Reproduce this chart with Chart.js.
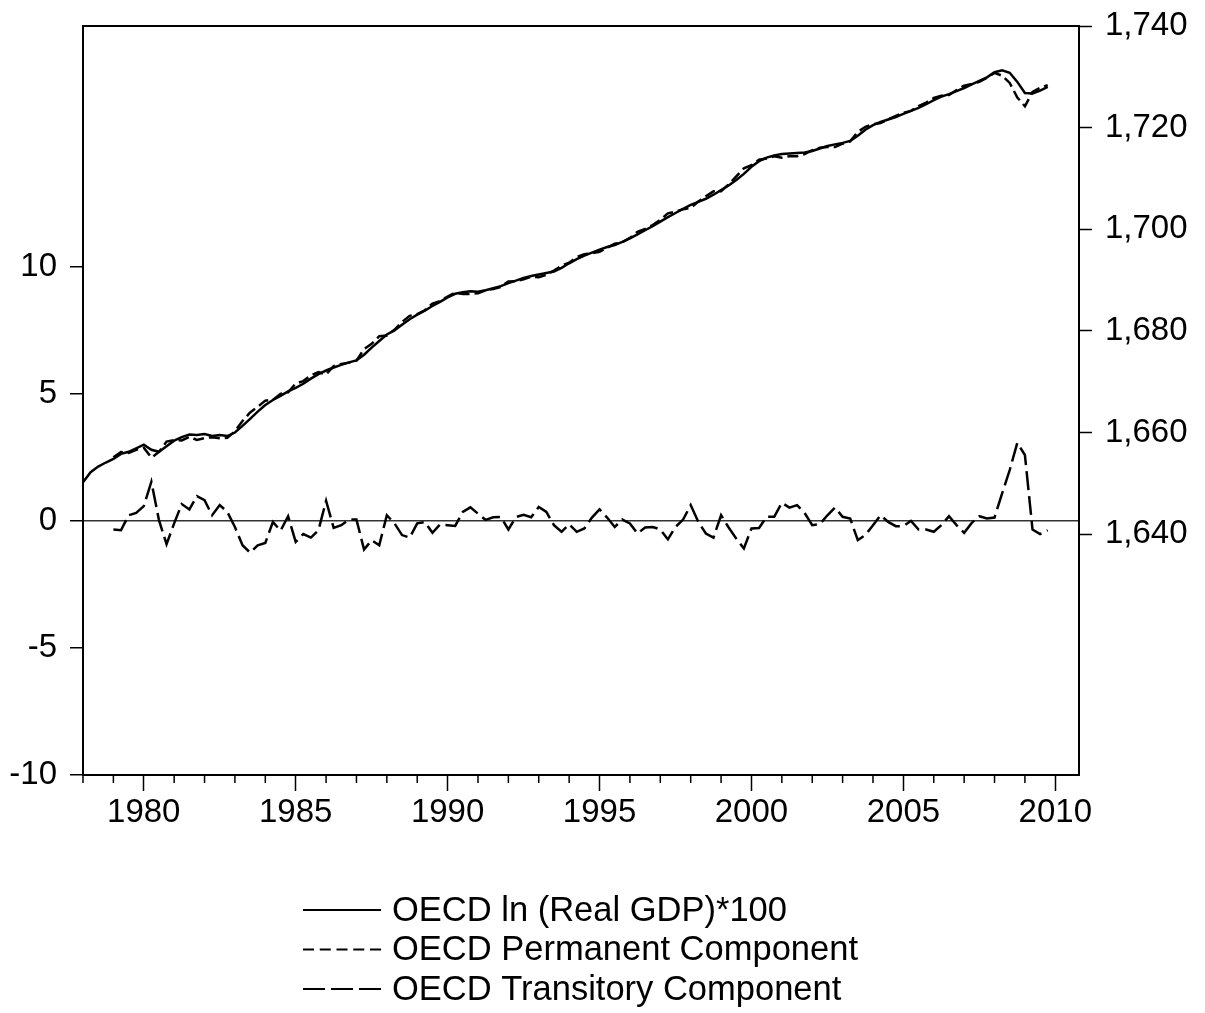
<!DOCTYPE html>
<html>
<head>
<meta charset="utf-8">
<title>OECD real GDP decomposition</title>
<script src="https://cdn.jsdelivr.net/npm/chart.js@4.4.1/dist/chart.umd.min.js"></script>
<style>
  html, body { margin: 0; padding: 0; background: #ffffff; }
  #wrap { width: 1205px; height: 1013px; position: relative; }
  canvas { display: block; }
</style>
</head>
<body>
<div id="wrap"><canvas id="chart" width="1205" height="1013"></canvas></div>
<script>
// Quarterly observations, 1978Q1 onward (GDP) and 1979Q1 onward (components)
const gdpStart = 1978;
const componentStart = 1979;

// OECD ln(real GDP)*100, right axis
const gdp = [
  1650.2, 1652.2, 1653.3, 1654.1,
  1654.8, 1655.8, 1656.2, 1656.9,
  1657.6, 1656.6, 1656.2, 1657.3,
  1658.4, 1659.1, 1659.6, 1659.5,
  1659.7, 1659.3, 1659.5, 1659.3,
  1660.0, 1661.3, 1662.7, 1664.1,
  1665.4, 1666.4, 1667.2, 1668.1,
  1668.8, 1669.6, 1670.6, 1671.5,
  1672.2, 1672.8, 1673.3, 1673.8,
  1674.2, 1675.3, 1676.7, 1678.0,
  1679.3, 1680.1, 1681.2, 1682.3,
  1683.2, 1684.0, 1684.9, 1685.7,
  1686.6, 1687.3, 1687.6, 1687.8,
  1687.7, 1688.0, 1688.4, 1688.8,
  1689.4, 1689.9, 1690.4, 1690.8,
  1691.1, 1691.4, 1691.7, 1692.4,
  1693.3, 1694.1, 1694.8, 1695.4,
  1696.0, 1696.5, 1696.9, 1697.5,
  1698.2, 1699.0, 1699.8, 1700.6,
  1701.5, 1702.4, 1703.2, 1704.0,
  1704.8, 1705.4, 1706.0, 1706.8,
  1707.7, 1708.6, 1709.7, 1710.9,
  1712.3, 1713.4, 1714.1, 1714.5,
  1714.8, 1714.9, 1715.0, 1715.1,
  1715.4, 1715.9, 1716.4, 1716.7,
  1717.0, 1717.4, 1718.4, 1719.6,
  1720.5, 1721.1, 1721.6, 1722.1,
  1722.7, 1723.3, 1723.9, 1724.6,
  1725.4, 1726.1, 1726.6, 1727.2,
  1727.8, 1728.5, 1729.2, 1729.9,
  1730.9, 1731.3, 1730.8, 1729.0,
  1726.8, 1726.7, 1727.3, 1728.0
];

// Permanent component, right axis
const permanent = [
  1655.14, 1656.17, 1655.98, 1656.59,
  1657.02, 1655.06, 1656.17, 1658.22,
  1658.50, 1658.44, 1659.15, 1658.53,
  1658.89, 1659.08, 1658.88, 1658.95,
  1660.24, 1662.26, 1663.95, 1665.06,
  1666.27, 1666.44, 1667.59, 1667.92,
  1669.63, 1670.12, 1671.26, 1671.87,
  1671.41, 1673.08, 1673.47, 1673.75,
  1674.15, 1676.43, 1677.46, 1678.96,
  1679.08, 1680.20, 1681.76, 1682.96,
  1683.30, 1684.05, 1685.37, 1685.84,
  1686.77, 1687.50, 1687.25, 1687.27,
  1687.42, 1687.96, 1688.26, 1688.65,
  1689.74, 1689.75, 1690.16, 1690.66,
  1690.55, 1691.05, 1691.87, 1692.83,
  1693.43, 1694.53, 1695.10, 1695.27,
  1695.55, 1696.37, 1697.14, 1697.45,
  1698.30, 1699.50, 1700.06, 1700.84,
  1701.84, 1703.13, 1703.44, 1703.95,
  1704.18, 1705.44, 1706.50, 1707.46,
  1707.48, 1708.86, 1710.40, 1711.99,
  1712.60, 1713.68, 1713.94, 1714.34,
  1714.09, 1714.38, 1714.38, 1714.79,
  1715.57, 1716.03, 1716.18, 1716.18,
  1716.84, 1717.31, 1719.16, 1720.16,
  1720.67, 1720.88, 1721.64, 1722.31,
  1722.91, 1723.30, 1724.24, 1724.94,
  1725.83, 1726.27, 1726.42, 1727.37,
  1728.27, 1728.58, 1729.02, 1729.81,
  1730.77, 1730.22, 1728.80, 1725.93,
  1724.21, 1727.04, 1727.82, 1728.37
];

// Transitory component, left axis
const transitory = [
  -0.34, -0.37, 0.22, 0.31,
  0.58, 1.54, 0.03, -0.92,
  -0.10, 0.66, 0.45, 0.97,
  0.81, 0.22, 0.62, 0.35,
  -0.24, -0.96, -1.25, -0.96,
  -0.87, -0.04, -0.39, 0.18,
  -0.83, -0.52, -0.66, -0.37,
  0.79, -0.28, -0.17, 0.05,
  0.05, -1.13, -0.76, -0.96,
  0.22, -0.10, -0.56, -0.66,
  -0.10, -0.05, -0.47, -0.14,
  -0.17, -0.20, 0.35, 0.53,
  0.28, 0.04, 0.14, 0.15,
  -0.34, 0.15, 0.24, 0.14,
  0.55, 0.35, -0.17, -0.43,
  -0.13, -0.43, -0.30, 0.13,
  0.45, 0.13, -0.24, 0.05,
  -0.10, -0.50, -0.26, -0.24,
  -0.34, -0.73, -0.24, 0.05,
  0.62, -0.04, -0.50, -0.66,
  0.22, -0.26, -0.70, -1.09,
  -0.30, -0.28, 0.16, 0.16,
  0.71, 0.52, 0.62, 0.31,
  -0.17, -0.13, 0.22, 0.52,
  0.16, 0.09, -0.76, -0.56,
  -0.17, 0.22, -0.04, -0.21,
  -0.21, 0.00, -0.34, -0.34,
  -0.43, -0.17, 0.18, -0.17,
  -0.47, -0.08, 0.18, 0.09,
  0.13, 1.08, 2.00, 3.07,
  2.59, -0.34, -0.52, -0.37
];

// Axis ticks
const yearTicks = [1980, 1985, 1990, 1995, 2000, 2005, 2010];
const minorYears = [1978, 1979, 1981, 1982, 1983, 1984, 1986, 1987, 1988, 1989,
  1991, 1992, 1993, 1994, 1996, 1997, 1998, 1999, 2001, 2002, 2003, 2004,
  2006, 2007, 2008, 2009];
const leftTicks = [-10, -5, 0, 5, 10];
const rightTicks = [1640, 1660, 1680, 1700, 1720, 1740];

const seriesLabels = [
  'OECD ln (Real GDP)*100',
  'OECD Permanent Component',
  'OECD Transitory Component'
];

const FONT = '"Liberation Sans", Arial, Helvetica, sans-serif';

function toPoints(values, startYear) {
  return values.map((v, i) => ({ x: startYear + i / 4, y: v }));
}

// Keep the plot box exactly where the layout padding puts it
function fixSize(prop, size) {
  return s => {
    s[prop] = size;
    s.paddingTop = 0; s.paddingBottom = 0; s.paddingLeft = 0; s.paddingRight = 0;
  };
}

// Frame around the plot plus the short yearly tick marks
const frameAndMinorTicks = {
  id: 'frameAndMinorTicks',
  afterDraw(chart) {
    const { ctx, chartArea: a } = chart;
    const x = chart.scales.x;
    ctx.save();
    ctx.strokeStyle = '#000';
    ctx.lineWidth = 1.5;
    minorYears.forEach(yr => {
      const px = x.getPixelForValue(yr);
      ctx.beginPath();
      ctx.moveTo(px, a.bottom);
      ctx.lineTo(px, a.bottom + 8);
      ctx.stroke();
    });
    ctx.lineWidth = 2;
    ctx.strokeRect(a.left, a.top, a.right - a.left, a.bottom - a.top);
    ctx.restore();
  }
};

// Stacked legend under the plot
const stackedLegend = {
  id: 'stackedLegend',
  afterDraw(chart) {
    const { ctx } = chart;
    const rows = [910, 949.5, 989];
    ctx.save();
    ctx.font = '34.5px ' + FONT;
    ctx.textBaseline = 'middle';
    ctx.textAlign = 'left';
    ctx.fillStyle = '#000';
    chart.data.datasets.forEach((ds, i) => {
      const y = rows[i];
      ctx.strokeStyle = '#000';
      ctx.lineWidth = 2.2;
      ctx.setLineDash(ds.legendDash || []);
      ctx.beginPath();
      ctx.moveTo(303, y);
      ctx.lineTo(381, y);
      ctx.stroke();
      ctx.setLineDash([]);
      ctx.fillText(ds.label, 392, y + 1);
    });
    ctx.restore();
  }
};

const tickFont = { family: FONT, size: 33 };

new Chart(document.getElementById('chart'), {
  type: 'line',
  data: {
    datasets: [
      {
        label: seriesLabels[0],
        data: toPoints(gdp, gdpStart),
        yAxisID: 'yRight',
        borderColor: '#000',
        borderWidth: 2.5,
        legendDash: []
      },
      {
        label: seriesLabels[1],
        data: toPoints(permanent, componentStart),
        yAxisID: 'yRight',
        borderColor: '#000',
        borderWidth: 2.5,
        borderDash: [11, 5],
        legendDash: [11, 5.75]
      },
      {
        label: seriesLabels[2],
        data: toPoints(transitory, componentStart),
        yAxisID: 'yLeft',
        borderColor: '#000',
        borderWidth: 2.5,
        borderDash: [19, 6],
        legendDash: [22, 6]
      }
    ]
  },
  options: {
    responsive: false,
    animation: false,
    events: [],
    elements: { point: { radius: 0 }, line: { tension: 0, fill: false } },
    layout: { padding: { top: 26, bottom: 178, left: 0, right: 0 } },
    plugins: { legend: { display: false }, tooltip: { enabled: false }, title: { display: false } },
    scales: {
      x: {
        type: 'linear',
        min: 1978,
        max: 2010.78,
        border: { display: false },
        grid: { drawOnChartArea: false, drawTicks: true, tickLength: 16, tickColor: '#000', tickWidth: 1.5 },
        afterBuildTicks: s => { s.ticks = yearTicks.map(v => ({ value: v })); },
        afterFit: fixSize('height', 60),
        ticks: {
          autoSkip: false, maxRotation: 0, minRotation: 0, padding: 2,
          color: '#000', font: tickFont,
          callback: v => String(v)
        }
      },
      yLeft: {
        type: 'linear',
        position: 'left',
        min: -10,
        max: 19.47,
        border: { display: false },
        grid: {
          drawOnChartArea: true, drawTicks: true, tickLength: 13,
          tickColor: '#000', tickWidth: 1.5,
          color: c => (c.tick && c.tick.value === 0 ? '#333' : 'rgba(0,0,0,0)'),
          lineWidth: 1.5
        },
        afterBuildTicks: s => { s.ticks = leftTicks.map(v => ({ value: v })); },
        afterFit: fixSize('width', 83),
        ticks: { padding: 13, color: '#000', font: tickFont, callback: v => String(v) }
      },
      yRight: {
        type: 'linear',
        position: 'right',
        min: 1592.6,
        max: 1740,
        border: { display: false },
        grid: { drawOnChartArea: false, drawTicks: true, tickLength: 13, tickColor: '#000', tickWidth: 1.5 },
        afterBuildTicks: s => { s.ticks = rightTicks.map(v => ({ value: v })); },
        afterFit: fixSize('width', 126),
        ticks: {
          padding: 13, color: '#000', font: tickFont,
          callback: v => Number(v).toLocaleString('en-US')
        }
      }
    }
  },
  plugins: [frameAndMinorTicks, stackedLegend]
});
</script>
</body>
</html>
